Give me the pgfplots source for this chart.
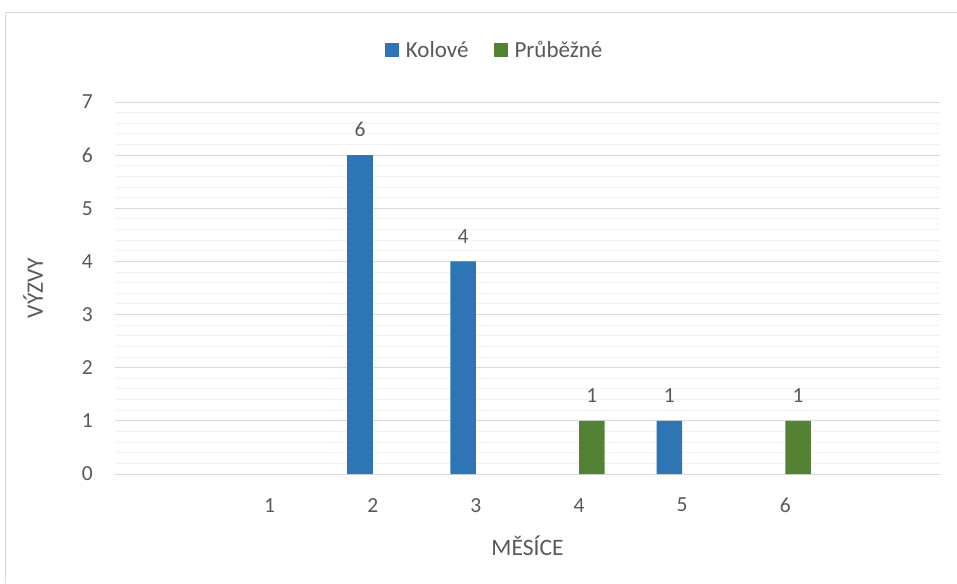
\documentclass[border=0pt]{standalone}
\usepackage{pgfplots}
\pgfplotsset{compat=1.18}
\usepackage{fontspec}
\setmainfont{Carlito}
\definecolor{kolove}{HTML}{2E75B6}
\definecolor{prubezne}{HTML}{548235}
\definecolor{txt}{HTML}{595959}
\definecolor{majgrid}{HTML}{D9D9D9}
\definecolor{mingrid}{HTML}{F2F2F2}
\pgfplotsset{sqlegend/.style={legend image code/.code={\fill[##1] (0pt,-7pt) rectangle (14pt,7pt);}}}
\begin{document}
\begin{tikzpicture}[x=1pt,y=1pt]
\begin{axis}[
  scale only axis, width=825pt, height=372pt,
  xmin=-0.5, xmax=7.5, ymin=0, ymax=7,
  xtick={1,...,6}, ytick={0,...,7},
  minor y tick num=4,
  ymajorgrids, yminorgrids,
  major grid style={majgrid, line width=1pt},
  minor grid style={mingrid, line width=1pt},
  axis line style={draw=none},
  major tick length=0pt, minor tick length=0pt,
  tick style={draw=none},
  /pgf/number format/assume math mode=true,
  ticklabel style={font=\fontsize{21.5}{26}\selectfont, text=txt, inner sep=0pt},
  xticklabel style={anchor=north, yshift=-24pt},
  yticklabel style={anchor=east, xshift=-22pt},
  xlabel={MĚSÍCE}, ylabel={VÝZVY},
  label style={font=\fontsize{23.5}{28}\selectfont, text=txt},
  xlabel style={at={(axis description cs:0.5,-0.194)}, anchor=center},
  ylabel style={at={(axis description cs:-0.0994,0.5)}, anchor=center},
  legend columns=2,
  legend style={at={(axis description cs:0.459,1.14)}, anchor=center, draw=none,
    inner sep=0pt, font=\fontsize{23}{28}\selectfont, text=txt,
    nodes={inner sep=0pt},
    /tikz/every odd column/.append style={column sep=7pt},
    /tikz/every even column/.append style={column sep=25pt}},
  every node near coord/.append style={font=\fontsize{21.5}{26}\selectfont, text=txt,
    inner sep=0pt, anchor=south, yshift=18pt},
]
\addplot[ybar, bar width=0.248, bar shift=-0.124, fill=kolove, draw=none, sqlegend,
  nodes near coords, every node near coord/.append style={xshift=-12.8pt}]
  coordinates {(2,6) (3,4) (5,1)};
\addlegendentry{Kolové}
\addplot[ybar, bar width=0.248, bar shift=0.124, fill=prubezne, draw=none, sqlegend,
  nodes near coords, every node near coord/.append style={xshift=12.8pt}]
  coordinates {(4,1) (6,1)};
\addlegendentry{Průběžné}
\coordinate (O) at (rel axis cs:0,0);
\end{axis}
\pgfresetboundingbox
\path[use as bounding box] (O) ++(-115,-109) rectangle ++(957,583);
\draw[majgrid, line width=1pt] (O) ++(-109.5,-109) -- ++(0,570.5) -- ++(951.5,0);
\end{tikzpicture}
\end{document}
